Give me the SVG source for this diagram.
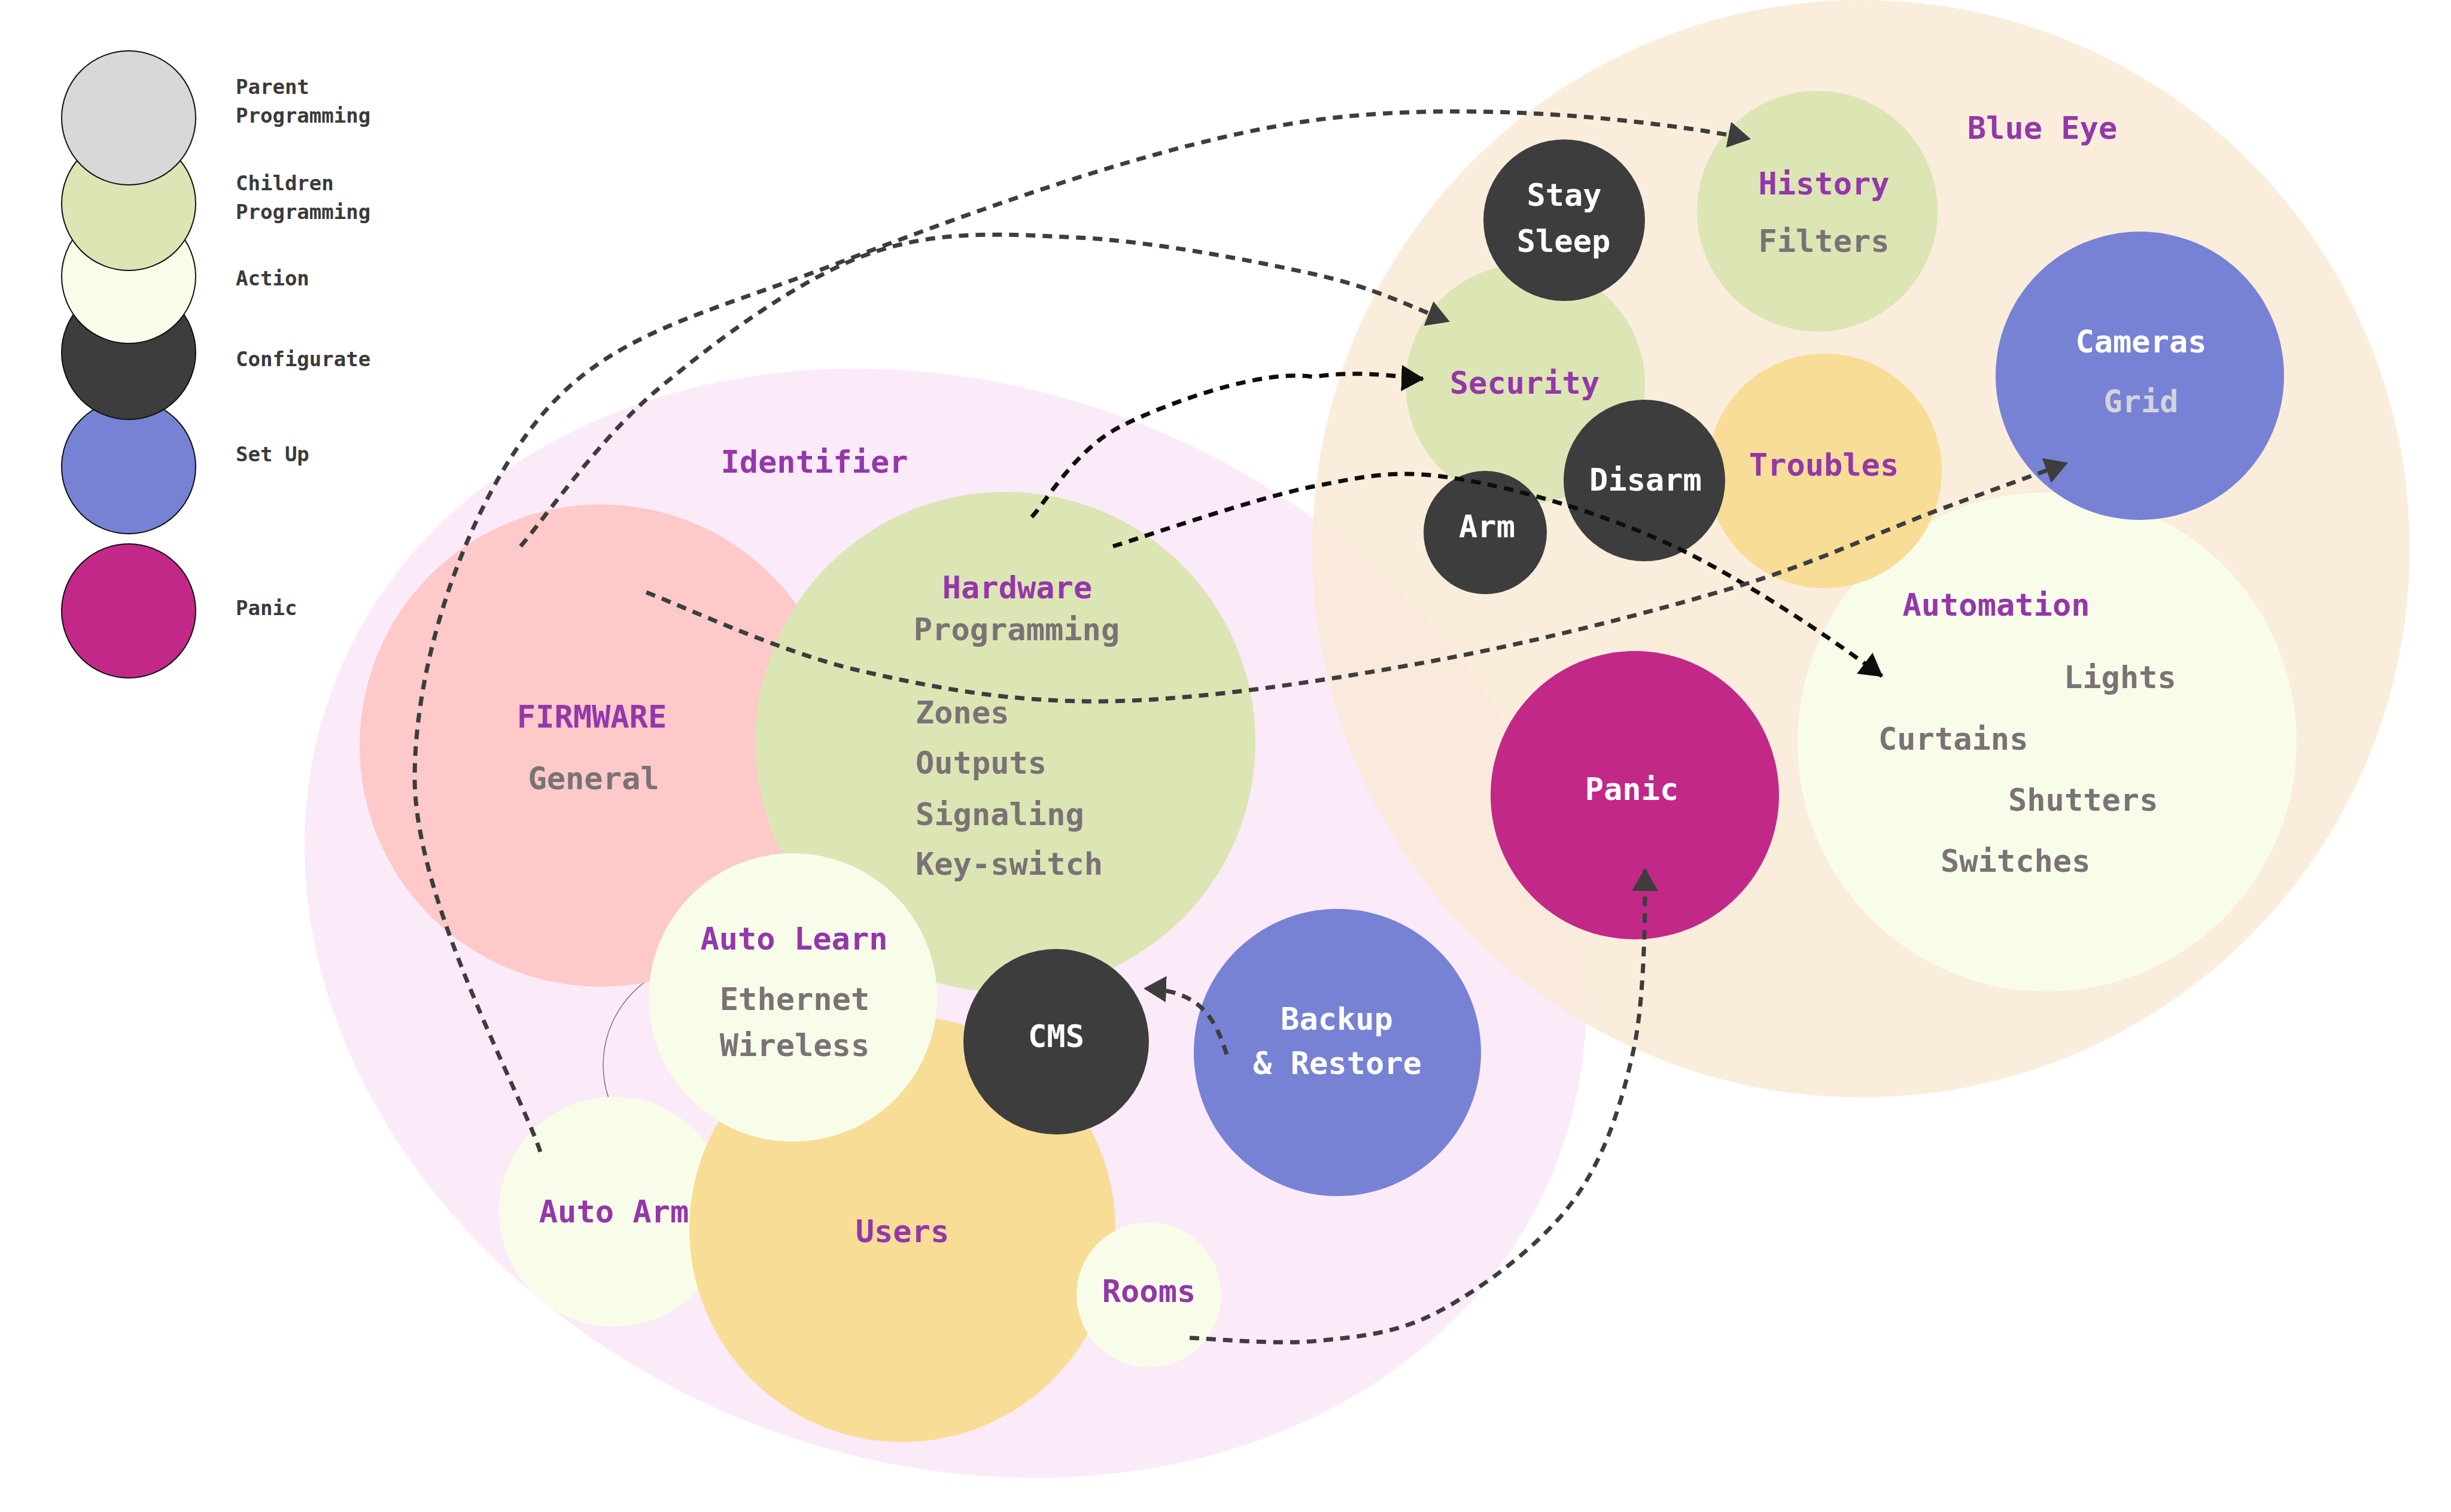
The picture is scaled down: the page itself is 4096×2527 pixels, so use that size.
<svg xmlns="http://www.w3.org/2000/svg" width="4096" height="2527" viewBox="0 0 4096 2527">
<style>
text{font-family:"DejaVu Sans Mono","Liberation Mono",monospace;font-size:52px;font-weight:bold}
.lg{font-size:34px;font-weight:bold;fill:#3a3a3a}
.m{text-anchor:middle}
.p{fill:#9437ab}
.g{fill:#7a7275}
.w{fill:#ffffff}
.lgc{stroke:#111;stroke-width:2}
.c{fill:none;stroke-width:7;stroke-dasharray:16 12}
.dk{stroke:#3d3d3d}
.bk{stroke:#0d0d0d}
</style>
<defs>
<marker id="ad" markerUnits="userSpaceOnUse" viewBox="0 0 38 44" markerWidth="38" markerHeight="44" refX="36" refY="22" orient="auto"><path d="M0,0 L38,22 L0,44 z" fill="#3d3d3d"/></marker>
<marker id="ab" markerUnits="userSpaceOnUse" viewBox="0 0 38 44" markerWidth="38" markerHeight="44" refX="36" refY="22" orient="auto"><path d="M0,0 L38,22 L0,44 z" fill="#0d0d0d"/></marker>
</defs>
<rect width="4096" height="2527" fill="#ffffff"/>
<g id="legend">
<circle class="lgc" cx="215" cy="1021" r="112" fill="#c22888"/>
<circle class="lgc" cx="215" cy="780" r="112" fill="#7782d5"/>
<circle class="lgc" cx="215" cy="589" r="112" fill="#3d3d3d"/>
<circle class="lgc" cx="215" cy="462" r="112" fill="#f8fde9"/>
<circle class="lgc" cx="215" cy="340" r="112" fill="#dce5b4"/>
<circle class="lgc" cx="215" cy="197" r="112" fill="#d8d8d8"/>
<text class="lg" x="394" y="157">Parent</text>
<text class="lg" x="394" y="205">Programming</text>
<text class="lg" x="394" y="318">Children</text>
<text class="lg" x="394" y="366">Programming</text>
<text class="lg" x="394" y="477">Action</text>
<text class="lg" x="394" y="612">Configurate</text>
<text class="lg" x="394" y="771">Set Up</text>
<text class="lg" x="394" y="1028">Panic</text>
</g>
<g id="identifier">
<ellipse cx="1580" cy="1543" rx="1097" ry="896" transform="rotate(22 1580 1543)" fill="#fbeaf8"/>
<text class="m p" x="1361" y="790">Identifier</text>
</g>
<g id="blue-eye">
<circle cx="3110" cy="917" r="917" fill="#f9ead6" fill-opacity="0.86"/>
<text class="m p" x="3413" y="232">Blue Eye</text>
</g>
<g id="outline-circle"><circle cx="1181" cy="1780" r="173" fill="none" stroke="#777" stroke-width="1.5"/></g>
<g id="firmware">
<circle cx="1004" cy="1246" r="403" fill="#fdc9c9"/>
<text class="m p" x="989" y="1216">FIRMWARE</text>
<text class="m g" x="992" y="1319">General</text>
</g>
<g id="hardware">
<circle cx="1680" cy="1240" r="418" fill="#dce5b4"/>
<text class="m p" x="1700" y="1000">Hardware</text>
<text class="m g" x="1699" y="1070">Programming</text>
<text class="g" x="1530" y="1209">Zones</text>
<text class="g" x="1530" y="1293">Outputs</text>
<text class="g" x="1530" y="1379">Signaling</text>
<text class="g" x="1530" y="1462">Key-switch</text>
</g>
<g id="auto-arm">
<circle cx="1026" cy="2025" r="192" fill="#f8fde9"/>
<text class="m p" x="1026" y="2043">Auto Arm</text>
</g>
<g id="users">
<circle cx="1508" cy="2054" r="356" fill="#f8dd97"/>
<text class="m p" x="1508" y="2076">Users</text>
</g>
<g id="auto-learn">
<circle cx="1325" cy="1667" r="241" fill="#f8fde9"/>
<text class="m p" x="1327" y="1587">Auto Learn</text>
<text class="m g" x="1328" y="1688">Ethernet</text>
<text class="m g" x="1328" y="1765">Wireless</text>
</g>
<g id="cms">
<circle cx="1765" cy="1741" r="155" fill="#3d3d3d"/>
<text class="m w" x="1765" y="1750">CMS</text>
</g>
<g id="backup">
<circle cx="2235" cy="1759" r="240" fill="#7782d5"/>
<text class="m w" x="2234" y="1721">Backup</text>
<text class="m w" x="2235" y="1795">&amp; Restore</text>
</g>
<g id="rooms">
<circle cx="1920" cy="2164" r="121" fill="#f8fde9"/>
<text class="m p" x="1920" y="2176">Rooms</text>
</g>
<g id="automation">
<circle cx="3421" cy="1240" r="417" fill="#f8fde9"/>
<text class="m p" x="3336" y="1029">Automation</text>
<text class="g" x="3449" y="1150">Lights</text>
<text class="g" x="3139" y="1253">Curtains</text>
<text class="g" x="3356" y="1355">Shutters</text>
<text class="g" x="3243" y="1457">Switches</text>
</g>
<g id="security">
<circle cx="2549" cy="642" r="200" fill="#dce5b4"/>
<text class="m p" x="2548" y="658">Security</text>
</g>
<g id="stay-sleep">
<circle cx="2614" cy="368" r="135" fill="#3d3d3d"/>
<text class="m w" x="2614" y="344">Stay</text>
<text class="m w" x="2613" y="421">Sleep</text>
</g>
<g id="history">
<circle cx="3037" cy="353" r="201" fill="#dce5b4"/>
<text class="m p" x="3048" y="325">History</text>
<text class="m g" x="3048" y="421">Filters</text>
</g>
<g id="troubles">
<circle cx="3049" cy="787" r="196" fill="#f8dd97"/>
<text class="m p" x="3048" y="795">Troubles</text>
</g>
<g id="disarm">
<circle cx="2748" cy="803" r="135" fill="#3d3d3d"/>
<text class="m w" x="2750" y="820">Disarm</text>
</g>
<g id="arm">
<circle cx="2482" cy="890" r="103" fill="#3d3d3d"/>
<text class="m w" x="2485" y="898">Arm</text>
</g>
<g id="cameras">
<circle cx="3576" cy="628" r="241" fill="#7782d5"/>
<text class="m w" x="3578" y="589">Cameras</text>
<text class="m" x="3578" y="689" fill="#d4d4dc">Grid</text>
</g>
<g id="panic">
<circle cx="2732" cy="1329" r="241" fill="#c22888"/>
<text class="m w" x="2727" y="1337">Panic</text>
</g>
<g id="connectors">
<path class="c dk" marker-end="url(#ad)" d="M903,1925 C868,1821 693,1504 693,1300 C693,1096 784,842 901,699 C1018,556 1176,526 1392,443 C1608,360 1940,236 2195,201 C2450,166 2760,200 2924,232"/>
<path class="c dk" marker-end="url(#ad)" d="M870,913 C908,869 1003,731 1100,650 C1197,569 1333,467 1450,425 C1567,383 1676,391 1800,397 C1924,403 2091,435 2195,458 C2298,481 2351,510 2421,537"/>
<path class="c bk" marker-end="url(#ab)" d="M1724,864 C1749,838 1797,750 1876,711 C1954,672 2111,616 2195,630 C2279,617 2347,632 2378,633"/>
<path class="c bk" marker-end="url(#ab)" d="M1860,913 C1916,896 2099,832 2195,813 C2291,794 2335,784 2435,800 C2535,816 2677,857 2795,912 C2913,967 3065,1070 3145,1130"/>
<path class="c dk" marker-end="url(#ad)" d="M1080,990 C1139,1012 1304,1090 1433,1120 C1562,1150 1695,1175 1856,1172 C2017,1169 2225,1136 2398,1104 C2571,1072 2756,1024 2894,983 C3032,942 3134,892 3227,857 C3320,822 3416,788 3454,774"/>
<path class="c dk" marker-end="url(#ad)" d="M2050,1762 C2030,1700 2005,1655 1913,1652"/>
<path class="c dk" marker-end="url(#ad)" d="M1988,2236 C2023,2237 2131,2248 2201,2241 C2271,2234 2335,2229 2406,2191 C2477,2153 2572,2083 2626,2011 C2680,1939 2708,1852 2729,1759 C2750,1666 2749,1513 2749,1453"/>
</g>
</svg>
